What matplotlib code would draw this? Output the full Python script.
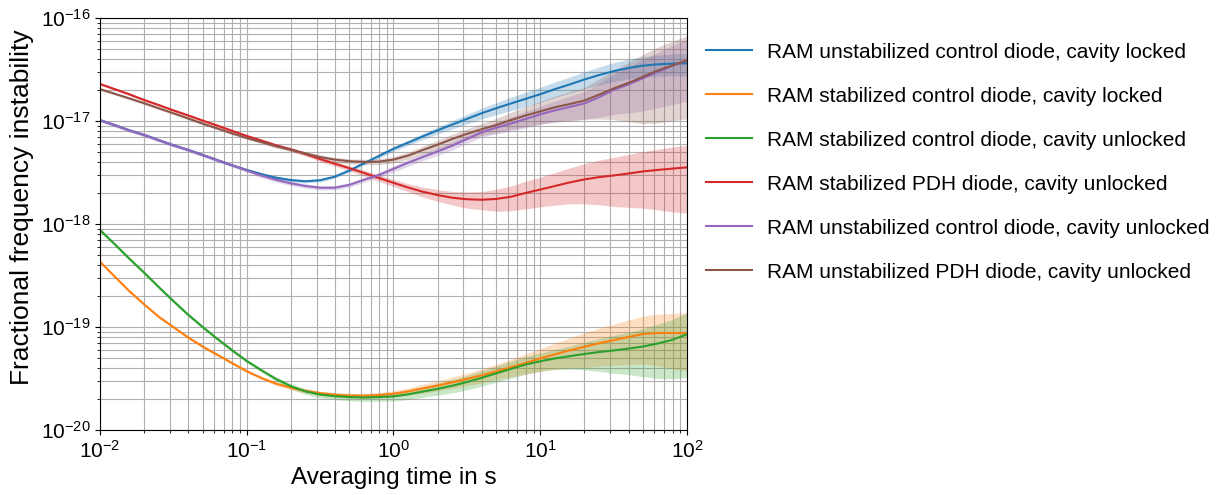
import numpy as np
import matplotlib
matplotlib.use("Agg")
import matplotlib.pyplot as plt

plt.rcParams['font.family'] = ['Liberation Sans', 'DejaVu Sans']
plt.rcParams['mathtext.fontset'] = 'custom'
plt.rcParams['mathtext.rm'] = 'Liberation Sans'
plt.rcParams['mathtext.it'] = 'Liberation Sans:italic'
plt.rcParams['mathtext.bf'] = 'Liberation Sans:bold'

# Averaging times (s)
tau = [0.01, 0.0126, 0.0158, 0.02, 0.0251, 0.0316, 0.0398, 0.0501, 0.0631, 0.0794,
       0.1, 0.126, 0.158, 0.2, 0.251, 0.316, 0.398, 0.501, 0.631, 0.794,
       1.0, 1.26, 1.58, 2.0, 2.51, 3.16, 3.98, 5.01, 6.31, 7.94,
       10.0, 12.6, 15.8, 20.0, 25.1, 31.6, 39.8, 50.1, 63.1, 79.4, 100.0]

labels = [
    "RAM unstabilized control diode, cavity locked",
    "RAM stabilized control diode, cavity locked",
    "RAM stabilized control diode, cavity unlocked",
    "RAM stabilized PDH diode, cavity unlocked",
    "RAM unstabilized control diode, cavity unlocked",
    "RAM unstabilized PDH diode, cavity unlocked",
]

# Fractional frequency instability
unstab_ctrl_locked = [1.02e-17, 9.12e-18, 8.13e-18, 7.33e-18, 6.53e-18, 5.82e-18, 5.25e-18, 4.68e-18,
                      4.17e-18, 3.72e-18, 3.35e-18, 3.05e-18, 2.82e-18, 2.67e-18, 2.60e-18, 2.66e-18,
                      2.88e-18, 3.31e-18, 3.89e-18, 4.57e-18, 5.37e-18, 6.17e-18, 7.08e-18, 8.13e-18,
                      9.23e-18, 1.047e-17, 1.19e-17, 1.33e-17, 1.48e-17, 1.64e-17, 1.82e-17, 2.04e-17,
                      2.26e-17, 2.53e-17, 2.79e-17, 3.05e-17, 3.27e-17, 3.45e-17, 3.55e-17, 3.61e-17,
                      3.63e-17]
stab_ctrl_locked = [4.31e-19, 3.09e-19, 2.24e-19, 1.66e-19, 1.26e-19, 1.0e-19, 7.94e-20, 6.46e-20,
                    5.37e-20, 4.47e-20, 3.72e-20, 3.20e-20, 2.82e-20, 2.57e-20, 2.40e-20, 2.28e-20,
                    2.20e-20, 2.16e-20, 2.15e-20, 2.18e-20, 2.25e-20, 2.37e-20, 2.53e-20, 2.70e-20,
                    2.90e-20, 3.13e-20, 3.39e-20, 3.72e-20, 4.07e-20, 4.47e-20, 4.95e-20, 5.43e-20,
                    5.92e-20, 6.43e-20, 6.95e-20, 7.45e-20, 8.0e-20, 8.55e-20, 8.75e-20, 8.75e-20,
                    8.71e-20]
stab_ctrl_unlocked = [8.75e-19, 6.37e-19, 4.63e-19, 3.37e-19, 2.45e-19, 1.79e-19, 1.32e-19, 1.0e-19,
                      7.67e-20, 5.96e-20, 4.68e-20, 3.80e-20, 3.13e-20, 2.66e-20, 2.37e-20, 2.21e-20,
                      2.13e-20, 2.09e-20, 2.07e-20, 2.09e-20, 2.12e-20, 2.22e-20, 2.36e-20, 2.51e-20,
                      2.69e-20, 2.92e-20, 3.21e-20, 3.55e-20, 3.92e-20, 4.32e-20, 4.65e-20, 4.95e-20,
                      5.21e-20, 5.47e-20, 5.71e-20, 5.92e-20, 6.17e-20, 6.46e-20, 6.92e-20, 7.50e-20,
                      8.51e-20]
stab_pdh_unlocked = [2.29e-17, 2.04e-17, 1.82e-17, 1.60e-17, 1.43e-17, 1.27e-17, 1.135e-17, 1.01e-17,
                     9.02e-18, 8.04e-18, 7.16e-18, 6.46e-18, 5.82e-18, 5.31e-18, 4.79e-18, 4.27e-18,
                     3.85e-18, 3.48e-18, 3.13e-18, 2.80e-18, 2.51e-18, 2.26e-18, 2.06e-18, 1.91e-18,
                     1.80e-18, 1.74e-18, 1.72e-18, 1.75e-18, 1.84e-18, 2.0e-18, 2.16e-18, 2.34e-18,
                     2.53e-18, 2.71e-18, 2.85e-18, 2.96e-18, 3.09e-18, 3.24e-18, 3.35e-18, 3.45e-18,
                     3.55e-18]
unstab_ctrl_unlocked = [1.02e-17, 9.12e-18, 8.13e-18, 7.33e-18, 6.53e-18, 5.82e-18, 5.25e-18, 4.68e-18,
                        4.17e-18, 3.72e-18, 3.31e-18, 2.95e-18, 2.69e-18, 2.48e-18, 2.34e-18, 2.25e-18,
                        2.25e-18, 2.40e-18, 2.69e-18, 2.99e-18, 3.43e-18, 3.94e-18, 4.47e-18, 5.07e-18,
                        5.75e-18, 6.68e-18, 7.76e-18, 8.61e-18, 9.44e-18, 1.047e-17, 1.16e-17, 1.27e-17,
                        1.37e-17, 1.48e-17, 1.70e-17, 2.0e-17, 2.26e-17, 2.6e-17, 2.99e-17, 3.43e-17,
                        3.89e-17]
unstab_pdh_unlocked = [2.04e-17, 1.84e-17, 1.66e-17, 1.49e-17, 1.33e-17, 1.19e-17, 1.06e-17, 9.44e-18,
                       8.47e-18, 7.59e-18, 6.84e-18, 6.24e-18, 5.69e-18, 5.25e-18, 4.84e-18, 4.47e-18,
                       4.22e-18, 4.07e-18, 4.01e-18, 4.03e-18, 4.22e-18, 4.62e-18, 5.22e-18, 5.89e-18,
                       6.68e-18, 7.5e-18, 8.32e-18, 9.12e-18, 1.02e-17, 1.13e-17, 1.24e-17, 1.36e-17,
                       1.46e-17, 1.58e-17, 1.80e-17, 2.07e-17, 2.34e-17, 2.69e-17, 3.09e-17, 3.47e-17,
                       3.89e-17]

# Relative 1-sigma uncertainty (fraction of value)
err_unstab_ctrl_locked = [0.03] * 11 + [0.035] * 7 + [
    0.04, 0.05, 0.055, 0.06, 0.07, 0.08, 0.095, 0.105, 0.12, 0.135, 0.15, 0.16,
    0.17, 0.175, 0.18, 0.19, 0.2, 0.21, 0.215, 0.22, 0.23, 0.24, 0.25]
err_stab_ctrl_locked = [0.03] * 11 + [
    0.035, 0.04, 0.04, 0.045, 0.045, 0.05, 0.05, 0.055, 0.06, 0.07, 0.08, 0.1,
    0.11, 0.125, 0.14, 0.155, 0.17, 0.19, 0.22, 0.25, 0.28, 0.32, 0.37, 0.4,
    0.43, 0.46, 0.49, 0.52, 0.55, 0.57]
err_stab_ctrl_unlocked = [0.04] * 11 + [
    0.045, 0.05, 0.06, 0.065, 0.07, 0.075, 0.08, 0.085, 0.09, 0.1, 0.11, 0.12,
    0.13, 0.15, 0.16, 0.17, 0.18, 0.19, 0.195, 0.2, 0.22, 0.25, 0.3, 0.35,
    0.4, 0.44, 0.49, 0.54, 0.58, 0.62]
err_stab_pdh_unlocked = [0.03] * 11 + [
    0.03, 0.035, 0.04, 0.045, 0.05, 0.055, 0.06, 0.065, 0.07, 0.08, 0.09, 0.11,
    0.13, 0.15, 0.18, 0.2, 0.24, 0.27, 0.3, 0.32, 0.35, 0.38, 0.42, 0.46,
    0.5, 0.53, 0.56, 0.59, 0.62, 0.64]
err_unstab_ctrl_unlocked = [0.04] * 11 + [0.05] * 7 + [
    0.055, 0.06, 0.07, 0.075, 0.08, 0.085, 0.09, 0.095, 0.1, 0.13, 0.16, 0.18,
    0.2, 0.23, 0.27, 0.3, 0.36, 0.42, 0.47, 0.52, 0.55, 0.58, 0.6]
err_unstab_pdh_unlocked = [0.03] * 11 + [
    0.035, 0.04, 0.04, 0.045, 0.05, 0.05, 0.055, 0.06, 0.065, 0.07, 0.08, 0.09,
    0.1, 0.11, 0.12, 0.13, 0.16, 0.19, 0.22, 0.25, 0.28, 0.31, 0.34, 0.42,
    0.5, 0.58, 0.65, 0.69, 0.71, 0.73]

series = [unstab_ctrl_locked, stab_ctrl_locked, stab_ctrl_unlocked,
          stab_pdh_unlocked, unstab_ctrl_unlocked, unstab_pdh_unlocked]
errors = [err_unstab_ctrl_locked, err_stab_ctrl_locked, err_stab_ctrl_unlocked,
          err_stab_pdh_unlocked, err_unstab_ctrl_unlocked, err_unstab_pdh_unlocked]
colors = ['#1f77b4', '#ff7f0e', '#2ca02c', '#d62728', '#9467bd', '#8c564b']

fig = plt.figure(figsize=(12.25, 4.95), dpi=100)
ax = fig.add_axes([0.0816, 0.1313, 0.4792, 0.8323])

t = np.array(tau)
for vals, err, c, lab in zip(series, errors, colors, labels):
    v = np.array(vals)
    e = np.array(err)
    ax.fill_between(t, v * (1 - e), v * (1 + e), color=c, alpha=0.25, lw=0)
    ax.plot(t, v, color=c, lw=1.5, label=lab)

ax.set_xscale('log')
ax.set_yscale('log')
ax.set_xlim(1e-2, 1e2)
ax.set_ylim(1e-20, 1e-16)
ax.grid(True, which='both', color='#b0b0b0', lw=0.8)
ax.set_axisbelow(True)
ax.tick_params(labelsize=15)
ax.set_xlabel('Averaging time in s', fontsize=17.5)
ax.set_ylabel('Fractional frequency instability', fontsize=19)
ax.yaxis.set_label_coords(-0.112, 0.542)

ax.legend(loc='upper left', bbox_to_anchor=(1.0, 0.986), frameon=False, fontsize=15,
          handlelength=2.2, handletextpad=0.75, labelspacing=1.2)

fig.savefig('out.png', dpi=100)
